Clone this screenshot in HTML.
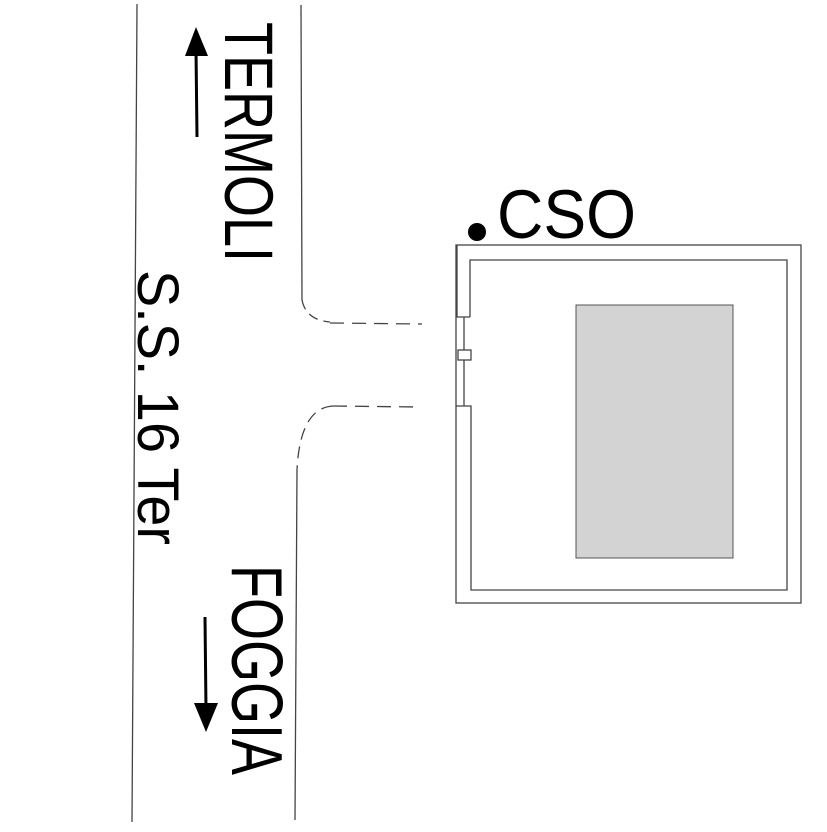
<!DOCTYPE html>
<html><head><style>html,body{margin:0;padding:0;background:#fff}</style></head>
<body>
<svg width="827" height="827" viewBox="0 0 827 827" xmlns="http://www.w3.org/2000/svg" font-family="Liberation Sans, sans-serif">
<rect width="827" height="827" fill="#fff"/>
<g fill="none" stroke="#444" stroke-width="1.3">
<line x1="137" y1="4" x2="132" y2="822"/>
<line x1="301" y1="5" x2="302" y2="300"/>
<path d="M302,300 Q306,320 330,322" stroke-dasharray="10,6"/>
<line x1="330" y1="323" x2="422" y2="324" stroke-dasharray="14,8"/>
<line x1="333" y1="406" x2="418" y2="407" stroke-dasharray="14,8"/>
<path d="M333,406 Q300,408 297,470" stroke-dasharray="12,7"/>
<line x1="297" y1="470" x2="295" y2="820"/>
<rect x="456" y="245" width="345" height="358"/>
<path d="M470,317 L470,260 L787,260 L787,590 L471,590 L471,406 L456,406"/>
<path d="M457,245 L457,317 L470,317"/>
<line x1="464" y1="317" x2="464" y2="406"/>
<rect x="458" y="350" width="13" height="10" fill="#fff"/>
</g>
<rect x="576" y="305" width="157" height="253" fill="#d3d3d3" stroke="#555" stroke-width="1"/>
<circle cx="477" cy="232" r="9" fill="#000"/>
<text x="497" y="238" font-size="69" textLength="139" lengthAdjust="spacingAndGlyphs">CSO</text>
<text transform="translate(225,22) rotate(90)" font-size="69" textLength="240" lengthAdjust="spacingAndGlyphs">TERMOLI</text>
<text transform="translate(138,270) rotate(90)" font-size="58" textLength="275" lengthAdjust="spacingAndGlyphs">S.S. 16 Ter</text>
<text transform="translate(232,565) rotate(90)" font-size="72" textLength="210" lengthAdjust="spacingAndGlyphs">FOGGIA</text>
<g stroke="#000" stroke-width="3" fill="#000">
<line x1="197" y1="137" x2="196" y2="50"/>
<polygon points="196,27 185,56 208,56" stroke="none"/>
<line x1="205" y1="617" x2="206" y2="710"/>
<polygon points="206,732 194,703 218,703" stroke="none"/>
</g>
</svg>
</body></html>
